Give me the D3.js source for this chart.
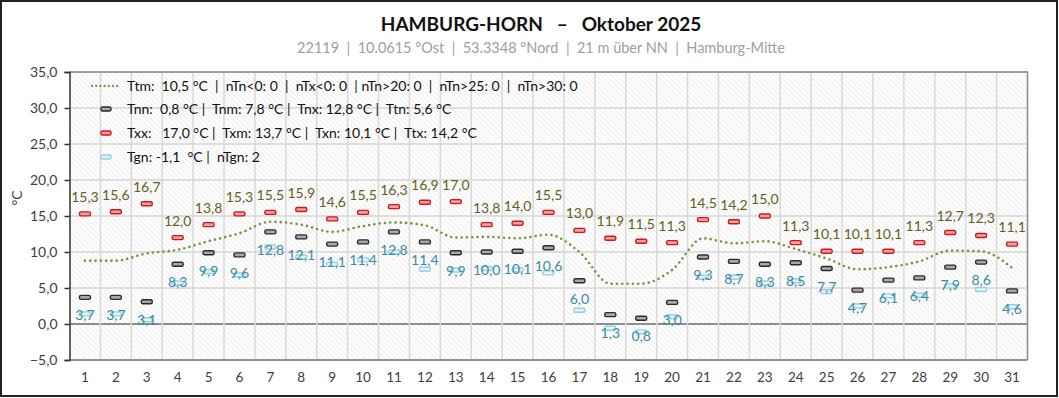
<!DOCTYPE html>
<html>
<head>
<meta charset="utf-8">
<script src="https://cdn.jsdelivr.net/npm/d3@7"></script>
<style>
  html, body { margin: 0; padding: 0; background: #fff; }
  svg { display: block; font-family: Lato, "Open Sans", sans-serif; }
</style>
</head>
<body>
<div id="chart"></div>
<script>
// daily values, Hamburg-Horn, October 2025
const days = d3.range(1, 32);
const tmax = [15.3, 15.6, 16.7, 12.0, 13.8, 15.3, 15.5, 15.9, 14.6, 15.5, 16.3, 16.9, 17.0, 13.8, 14.0, 15.5,
  13.0, 11.9, 11.5, 11.3, 14.5, 14.2, 15.0, 11.3, 10.1, 10.1, 10.1, 11.3, 12.7, 12.3, 11.1];
const tmin = [3.7, 3.7, 3.1, 8.3, 9.9, 9.6, 12.8, 12.1, 11.1, 11.4, 12.8, 11.4, 9.9, 10.0, 10.1, 10.6,
  6.0, 1.3, 0.8, 3.0, 9.3, 8.7, 8.3, 8.5, 7.7, 4.7, 6.1, 6.4, 7.9, 8.6, 4.6];
const tmean = [8.8, 8.8, 9.8, 10.3, 11.5, 12.6, 14.2, 13.8, 12.8, 13.6, 14.1, 13.7, 12.0, 12.1, 11.9, 12.4,
  10.0, 5.6, 5.6, 7.5, 11.9, 11.2, 11.5, 10.4, 9.1, 7.6, 7.9, 8.7, 10.2, 10.1, 7.8];
const tground = [1.4, 1.4, 0.6, 5.7, 7.3, 6.8, 10.7, 9.3, 8.3, 8.9, 10.0, 7.6, 7.5, 7.7, 7.5, 7.1,
  1.9, -0.6, -1.1, 1.0, 6.5, 6.5, 5.7, 6.0, 4.5, 2.5, 3.9, 4.0, 5.3, 4.8, 2.4];
const yTicks = [-5, 0, 5, 10, 15, 20, 25, 30, 35];

const title = 'HAMBURG-HORN   \u2013   Oktober 2025';
const subtitle = '22119  |  10.0615 \u00b0Ost  |  53.3348 \u00b0Nord  |  21 m \u00fcber NN  |  Hamburg-Mitte';
const legendRows = [
  'Ttm:  10,5 \u00b0C  |  nTn<0: 0  |  nTx<0: 0  | nTn>20: 0  |  nTn>25: 0  |  nTn>30: 0',
  'Tnn:  0,8 \u00b0C |  Tnm: 7,8 \u00b0C |  Tnx: 12,8 \u00b0C |  Ttn: 5,6 \u00b0C',
  'Txx:   17,0 \u00b0C |  Txm: 13,7 \u00b0C |  Txn: 10,1 \u00b0C |  Ttx: 14,2 \u00b0C',
  'Tgn: -1,1  \u00b0C |  nTgn: 2'
];

const width = 1059, height = 398;
const margin = { top: 72, right: 31.5, bottom: 38, left: 69.5 };
const comma = v => d3.format('.1f')(v).replace('.', ',');

const svg = d3.select('#chart').append('svg')
  .attr('width', width)
  .attr('height', height);

// hatch pattern for the plot background
const defs = svg.append('defs');
defs.append('pattern')
  .attr('id', 'hatch')
  .attr('patternUnits', 'userSpaceOnUse')
  .attr('width', 3.6).attr('height', 4)
  .attr('patternTransform', 'rotate(-45)')
  .append('line')
  .attr('x1', 1).attr('y1', 0).attr('x2', 1).attr('y2', 4)
  .attr('stroke', '#eeeeee')
  .attr('stroke-width', 1.2);

// outer frame
svg.append('rect')
  .attr('x', 1).attr('y', 1)
  .attr('width', width - 3).attr('height', height - 3)
  .attr('fill', '#fff')
  .attr('stroke', '#222')
  .attr('stroke-width', 2);

const x = d3.scaleBand()
  .domain(days)
  .range([margin.left, width - margin.right]);
const y = d3.scaleLinear()
  .domain([-5, 35])
  .range([height - margin.bottom, margin.top]);
const cx = d => x(d) + x.bandwidth() / 2;

const plot = svg.append('g');
plot.append('rect')
  .attr('x', x.range()[0]).attr('y', y(35))
  .attr('width', x.range()[1] - x.range()[0])
  .attr('height', y(-5) - y(35))
  .attr('fill', 'url(#hatch)');

// gridlines
plot.append('g')
  .selectAll('line')
  .data(yTicks)
  .join('line')
  .attr('x1', x.range()[0]).attr('x2', x.range()[1])
  .attr('y1', d => y(d)).attr('y2', d => y(d))
  .attr('stroke', d => d === 0 ? '#6a6a6a' : '#d6d6d6')
  .attr('stroke-width', d => d === 0 ? 1.5 : 1.3);

plot.append('g')
  .selectAll('line')
  .data(days.slice(1))
  .join('line')
  .attr('x1', d => x(d)).attr('x2', d => x(d))
  .attr('y1', y(35)).attr('y2', y(-5))
  .attr('stroke', '#d9d9d9')
  .attr('stroke-width', 1.5);

// plot border
plot.append('path')
  .attr('d', `M${x.range()[0]},${y(35)}H${x.range()[1]}V${y(-5)}`)
  .attr('fill', 'none')
  .attr('stroke', '#8a8a8a')
  .attr('stroke-width', 1.5);
plot.append('line')
  .attr('x1', x.range()[0]).attr('x2', x.range()[1])
  .attr('y1', y(-5)).attr('y2', y(-5))
  .attr('stroke', '#7a7a7a').attr('stroke-width', 1.5);

// y axis
const yAxis = svg.append('g')
  .attr('transform', `translate(${x.range()[0]},0)`)
  .call(d3.axisLeft(y).tickValues(yTicks).tickFormat(comma).tickSize(5).tickPadding(7));
yAxis.select('.domain').attr('stroke', '#333').attr('stroke-width', 1.5);
yAxis.selectAll('.tick line').attr('stroke', '#333').attr('stroke-width', 1.5);
yAxis.selectAll('.tick text')
  .attr('fill', '#404040')
  .style('font-size', '14px')
  .style('font-family', 'Lato, sans-serif');

svg.append('text')
  .attr('transform', `translate(22,${(y(20) + y(15)) / 2}) rotate(-90)`)
  .attr('text-anchor', 'middle')
  .attr('fill', '#404040')
  .style('font-size', '14px')
  .text('\u00b0C');

// x axis
const xAxis = svg.append('g')
  .attr('transform', `translate(0,${y(-5)})`)
  .call(d3.axisBottom(x).tickSize(0).tickPadding(12));
xAxis.select('.domain').remove();
xAxis.selectAll('.tick text')
  .attr('fill', '#404040')
  .style('font-size', '13.5px')
  .style('font-family', 'Lato, sans-serif');

// titles
svg.append('text')
  .attr('x', 541).attr('y', 31)
  .attr('text-anchor', 'middle')
  .attr('fill', '#111')
  .style('font-size', '19px')
  .style('font-weight', 'bold')
  .style('white-space', 'pre')
  .text(title);
svg.append('text')
  .attr('x', 541).attr('y', 53)
  .attr('text-anchor', 'middle')
  .attr('fill', '#a0a0a0')
  .style('font-size', '14.5px')
  .style('white-space', 'pre')
  .text(subtitle);

// mean temperature line
const line = d3.line()
  .x((d, i) => cx(days[i]))
  .y(d => y(d))
  .curve(d3.curveMonotoneX);
plot.append('path')
  .datum(tmean)
  .attr('d', line)
  .attr('fill', 'none')
  .attr('stroke', '#77933c')
  .attr('stroke-width', 2.6)
  .attr('stroke-linecap', 'round')
  .attr('stroke-dasharray', '0 5.3');

// marker styles
const styles = {
  min: { stroke: '#2b2b2b', fill: '#a8a8a8' },
  max: { stroke: '#d01818', fill: '#f4a0a0' },
  ground: { stroke: '#96d0e4', fill: '#e4f4fa' }
};
function markers(values, st) {
  plot.append('g')
    .selectAll('rect')
    .data(values)
    .join('rect')
    .attr('x', (d, i) => cx(days[i]) - 5.5)
    .attr('y', d => y(d) - 2)
    .attr('width', 11).attr('height', 4)
    .attr('rx', 1.5)
    .attr('fill', st.fill)
    .attr('stroke', st.stroke)
    .attr('stroke-width', 1.4);
}
markers(tground, styles.ground);
markers(tmin, styles.min);
markers(tmax, styles.max);

// data labels
plot.append('g')
  .selectAll('text')
  .data(tmax)
  .join('text')
  .attr('x', (d, i) => cx(days[i]))
  .attr('y', d => y(d) - 12)
  .attr('text-anchor', 'middle')
  .attr('fill', '#655e20')
  .style('font-size', '14px')
  .text(comma);
plot.append('g')
  .selectAll('text')
  .data(tmin)
  .join('text')
  .attr('x', (d, i) => cx(days[i]))
  .attr('y', d => y(d) + 23)
  .attr('text-anchor', 'middle')
  .attr('fill', '#3b8aa2')
  .style('font-size', '14px')
  .text(comma);

// legend
const legend = svg.append('g');
const rowY = [86, 109, 133, 157];
legend.append('line')
  .attr('x1', 92).attr('x2', 121)
  .attr('y1', rowY[0]).attr('y2', rowY[0])
  .attr('stroke', '#77933c')
  .attr('stroke-width', 2.3)
  .attr('stroke-linecap', 'round')
  .attr('stroke-dasharray', '0 4.2');
[styles.min, styles.max, styles.ground].forEach((st, i) => {
  legend.append('rect')
    .attr('x', 101).attr('y', rowY[i + 1] - 2)
    .attr('width', 10).attr('height', 4)
    .attr('rx', 1.5)
    .attr('fill', st.fill)
    .attr('stroke', st.stroke)
    .attr('stroke-width', 1.4);
});
legend.selectAll('text.row')
  .data(legendRows)
  .join('text')
  .attr('class', 'row')
  .attr('x', 127)
  .attr('y', (d, i) => rowY[i] + 5)
  .attr('fill', '#111')
  .style('font-size', '14px')
  .style('white-space', 'pre')
  .text(d => d);
</script>
</body>
</html>
